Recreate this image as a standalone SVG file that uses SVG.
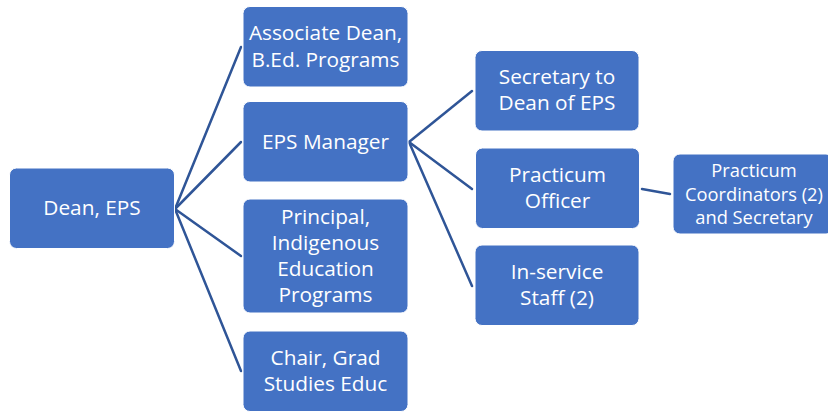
<svg xmlns="http://www.w3.org/2000/svg" width="828" height="413" viewBox="0 0 828 413">
<style>
.box{fill:#4472C4;stroke:#ffffff;stroke-width:1}
.t{font-family:"Open Sans","Liberation Sans",sans-serif;font-size:20.8px;fill:#ffffff;text-anchor:middle}
.t2{font-family:"Open Sans","Liberation Sans",sans-serif;font-size:18.3px;fill:#ffffff;text-anchor:middle}
.c{stroke:#2F5597;stroke-width:2.5;fill:none;stroke-linecap:round}
</style>
<rect width="828" height="413" fill="#ffffff"/>
<g id="connectors">
<line class="c" x1="175" y1="209" x2="241" y2="47"/>
<line class="c" x1="175" y1="209" x2="241" y2="142"/>
<line class="c" x1="175" y1="209" x2="241" y2="256"/>
<line class="c" x1="175" y1="209" x2="241" y2="371"/>
<line class="c" x1="409" y1="142" x2="472" y2="91"/>
<line class="c" x1="409" y1="142" x2="472" y2="189"/>
<line class="c" x1="409" y1="142" x2="472" y2="286"/>
<line class="c" x1="642" y1="189" x2="670" y2="194"/>
</g>
<g id="dean">
<rect class="box" x="9.5" y="168" width="165" height="80.5" rx="7"/>
<text class="t" x="92" y="215">Dean, EPS</text>
</g>
<g id="assoc-dean">
<rect class="box" x="243" y="6.5" width="165" height="80.5" rx="7"/>
<text class="t" x="325.5" y="40">Associate Dean,</text>
<text class="t" x="325.5" y="67">B.Ed. Programs</text>
</g>
<g id="eps-manager">
<rect class="box" x="243" y="101.5" width="165" height="80.5" rx="7"/>
<text class="t" x="325.5" y="149">EPS Manager</text>
</g>
<g id="principal">
<rect class="box" x="243" y="199" width="165" height="114" rx="7"/>
<text class="t" x="325.5" y="224">Principal,</text>
<text class="t" x="325.5" y="250">Indigenous</text>
<text class="t" x="325.5" y="276">Education</text>
<text class="t" x="325.5" y="302">Programs</text>
</g>
<g id="chair">
<rect class="box" x="243" y="331" width="165" height="80.5" rx="7"/>
<text class="t" x="325.5" y="365">Chair, Grad</text>
<text class="t" x="325.5" y="391">Studies Educ</text>
</g>
<g id="secretary">
<rect class="box" x="475" y="50.5" width="164" height="80.5" rx="7"/>
<text class="t" x="557" y="84">Secretary to</text>
<text class="t" x="557" y="110">Dean of EPS</text>
</g>
<g id="practicum-officer">
<rect class="box" x="475.5" y="148" width="164" height="80.5" rx="7"/>
<text class="t" x="557.5" y="182">Practicum</text>
<text class="t" x="557.5" y="208">Officer</text>
</g>
<g id="inservice">
<rect class="box" x="475" y="245" width="164" height="80.5" rx="7"/>
<text class="t" x="557" y="279">In-service</text>
<text class="t" x="557" y="305">Staff (2)</text>
</g>
<g id="coordinators">
<rect class="box" x="673" y="154" width="160" height="80" rx="7"/>
<text class="t2" x="754" y="177">Practicum</text>
<text class="t2" x="754" y="201">Coordinators (2)</text>
<text class="t2" x="754" y="224">and Secretary</text>
</g>
</svg>
